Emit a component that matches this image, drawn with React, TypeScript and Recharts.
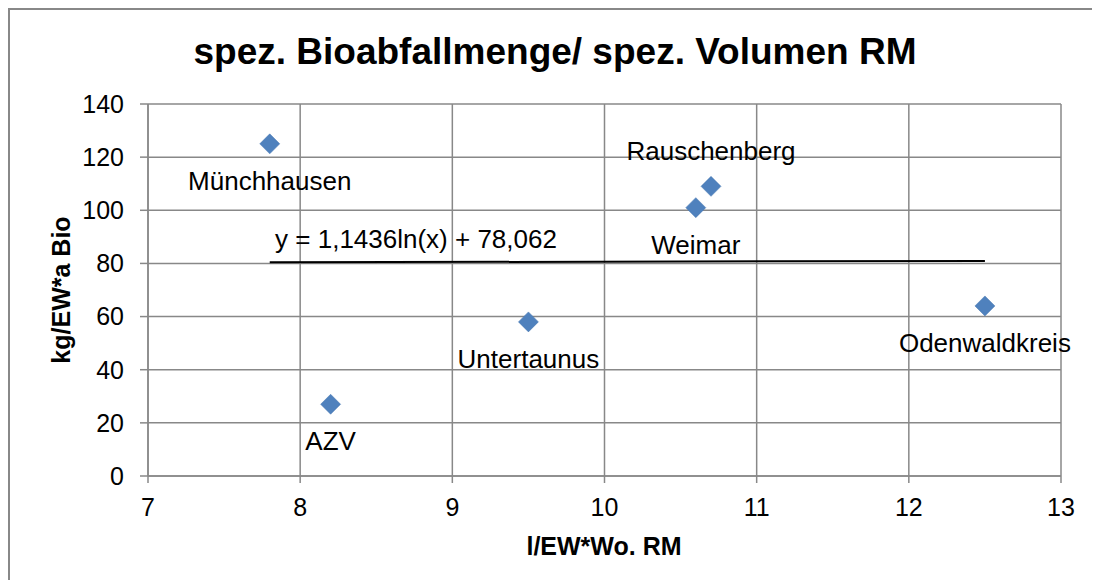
import React from 'react';
import {
  ScatterChart,
  Scatter,
  XAxis,
  YAxis,
  CartesianGrid,
  ReferenceLine,
} from 'recharts';

const regions = ['Münchhausen', 'AZV', 'Untertaunus', 'Weimar', 'Rauschenberg', 'Odenwaldkreis'];
const volumeRM = [7.8, 8.2, 9.5, 10.6, 10.7, 12.5];
const bioWaste = [125, 27, 58, 101, 109, 64];

const xTicks = [7, 8, 9, 10, 11, 12, 13];
const yTicks = [0, 20, 40, 60, 80, 100, 120, 140];

// trend line ends
const trendX = [7.8, 12.5];
const trendY = [80.4, 80.95];
const trendText = 'y = 1,1436ln(x) + 78,062';

const labelSide = ['below', 'below', 'below', 'below', 'above', 'below'];

const FONT = '"Liberation Sans", Arial, sans-serif';
const GRID = '#888888';
const BLUE = '#4F81BD';

const points = regions.map((name, i) => ({ name, x: volumeRM[i], y: bioWaste[i], side: labelSide[i] }));

function Diamond(props: any) {
  const { cx, cy, payload } = props;
  const r = 10;
  const ty = payload.side === 'above' ? cy - 26 : cy + 46;
  return (
    <g>
      <polygon
        points={`${cx},${cy - r} ${cx + r},${cy} ${cx},${cy + r} ${cx - r},${cy}`}
        fill={BLUE}
        stroke="#4677b0"
        strokeWidth={0.5}
      />
      <text x={cx} y={ty} textAnchor="middle" fontSize={26} fontFamily={FONT} fill="#000">
        {payload.name}
      </text>
    </g>
  );
}

export default function App() {
  // kept small enough that the page does not scroll (8px body margin)
  const W = 1082;
  const H = 570;
  return (
    <div
      style={{
        position: 'relative',
        width: W,
        height: H,
        borderLeft: `2px solid ${GRID}`,
        borderTop: `2px solid ${GRID}`,
        fontFamily: FONT,
        background: '#fff',
      }}
    >
      <ScatterChart width={W} height={H} margin={{ top: 94, right: 31, bottom: 44, left: 38 }}>
        <CartesianGrid stroke={GRID} strokeWidth={1.5} />
        <XAxis
          type="number"
          dataKey="x"
          domain={[7, 13]}
          ticks={xTicks}
          interval={0}
          height={60}
          stroke={GRID}
          strokeWidth={1.5}
          tickSize={7}
          tickMargin={15}
          tick={{ fill: '#000', fontSize: 25, fontFamily: FONT }}
        />
        <YAxis
          type="number"
          dataKey="y"
          domain={[0, 140]}
          ticks={yTicks}
          interval={0}
          width={100}
          stroke={GRID}
          strokeWidth={1.5}
          tickSize={8}
          tickMargin={16}
          tick={{ fill: '#000', fontSize: 25, fontFamily: FONT }}
        />
        <ReferenceLine
          segment={[
            { x: trendX[0], y: trendY[0] },
            { x: trendX[1], y: trendY[1] },
          ]}
          stroke="#000"
          strokeWidth={2}
        />
        <Scatter data={points} shape={<Diamond />} isAnimationActive={false} />
      </ScatterChart>
      <svg
        width={W}
        height={H}
        style={{ position: 'absolute', left: 0, top: 0, pointerEvents: 'none', overflow: 'visible' }}
      >
        <text x={545} y={54} textAnchor="middle" fontSize={37} fontWeight="bold" fontFamily={FONT} fill="#000">
          spez. Bioabfallmenge/ spez. Volumen RM
        </text>
        <text
          x={60}
          y={280}
          transform="rotate(-90 60 280)"
          textAnchor="middle"
          fontSize={25}
          fontWeight="bold"
          fontFamily={FONT}
          fill="#000"
        >
          kg/EW*a Bio
        </text>
        <text x={594} y={545} textAnchor="middle" fontSize={25} fontWeight="bold" fontFamily={FONT} fill="#000">
          l/EW*Wo. RM
        </text>
        <text x={406} y={238} textAnchor="middle" fontSize={26} fontFamily={FONT} fill="#000">
          {trendText}
        </text>
      </svg>
    </div>
  );
}
